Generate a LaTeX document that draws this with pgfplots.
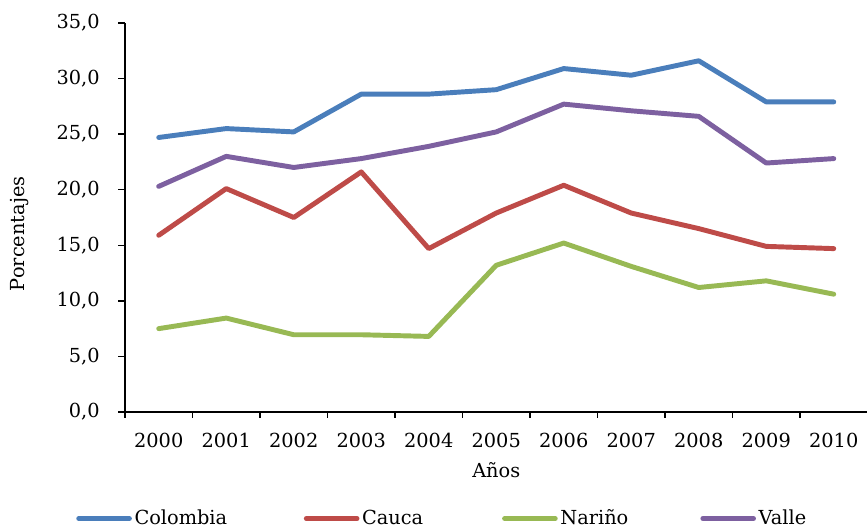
\documentclass[border=0pt]{standalone}
\usepackage{fontspec}
\setmainfont{DejaVu Serif}
\usepackage{pgfplots}
\pgfplotsset{compat=1.18}
\definecolor{cCol}{HTML}{4A7EBB}
\definecolor{cCau}{HTML}{BE4B48}
\definecolor{cNar}{HTML}{98B954}
\definecolor{cVal}{HTML}{7D60A0}
\newcommand{\ff}{\fontsize{14.5pt}{16pt}\selectfont}
\begin{document}
\ff
\begin{tikzpicture}
\begin{axis}[
  scale only axis,
  width=556.875pt, height=291.75pt,
  xmin=-0.5, xmax=10.5, ymin=0, ymax=35,
  axis x line=bottom, axis y line=left,
  axis line style={-, line width=1.3pt, black},
  tick align=outside,
  xtick={0,...,10},
  xticklabels={2000,2001,2002,2003,2004,2005,2006,2007,2008,2009,2010},
  minor xtick={-0.5,0.5,...,10.5},
  major x tick style={draw=none},
  minor x tick style={line width=1.1pt, black},
  minor tick length=4.5pt,
  ytick={0,5,...,35},
  major tick length=5pt,
  major y tick style={line width=1.1pt, black},
  /pgf/number format/assume math mode=true,
  yticklabel style={/pgf/number format/fixed, /pgf/number format/fixed zerofill, /pgf/number format/precision=1, /pgf/number format/use comma, xshift=-9pt},
  ticklabel style={font=\ff},
  xticklabel style={yshift=-6pt},
  xlabel={Años},
  ylabel={Porcentajes},
  label style={font=\ff},
  every axis x label/.style={at={(axis description cs:0.5,-0.149)}, anchor=center},
  every axis y label/.style={at={(axis description cs:-0.1414,0.458)}, anchor=center, rotate=90},
  legend columns=4,
  legend style={at={(axis description cs:-0.066,-0.274)}, anchor=west, draw=none, inner sep=0pt,
    font=\ff, /tikz/every even column/.append style={column sep=0pt}},
  legend cell align=left,
  legend image code/.code={\draw[#1, line cap=round] (0pt,0pt) -- (38pt,0pt);},
  every axis plot/.append style={line width=3.7pt, line cap=round, line join=round},
  clip=false,
]
\addplot[cCol] coordinates {(0,24.7)(1,25.5)(2,25.2)(3,28.6)(4,28.6)(5,29.0)(6,30.9)(7,30.3)(8,31.6)(9,27.9)(10,27.9)};
\addlegendentry{\makebox[125pt][l]{Colombia}}
\addplot[cCau] coordinates {(0,15.9)(1,20.1)(2,17.5)(3,21.6)(4,14.7)(5,17.9)(6,20.4)(7,17.9)(8,16.5)(9,14.9)(10,14.7)};
\addlegendentry{\makebox[103pt][l]{Cauca}}
\addplot[cNar] coordinates {(0,7.5)(1,8.45)(2,6.95)(3,6.95)(4,6.8)(5,13.2)(6,15.2)(7,13.1)(8,11.2)(9,11.8)(10,10.6)};
\addlegendentry{\makebox[103pt][l]{Nariño}}
\addplot[cVal] coordinates {(0,20.3)(1,23.0)(2,22.0)(3,22.8)(4,23.9)(5,25.2)(6,27.7)(7,27.1)(8,26.6)(9,22.4)(10,22.8)};
\addlegendentry{Valle}
\coordinate (ll) at (axis description cs:-0.16835,-0.30591);
\coordinate (ur) at (axis description cs:0.99933,1.05913);
\end{axis}
\pgfresetboundingbox
\path[use as bounding box] (ll) rectangle (ur);
\end{tikzpicture}
\end{document}
